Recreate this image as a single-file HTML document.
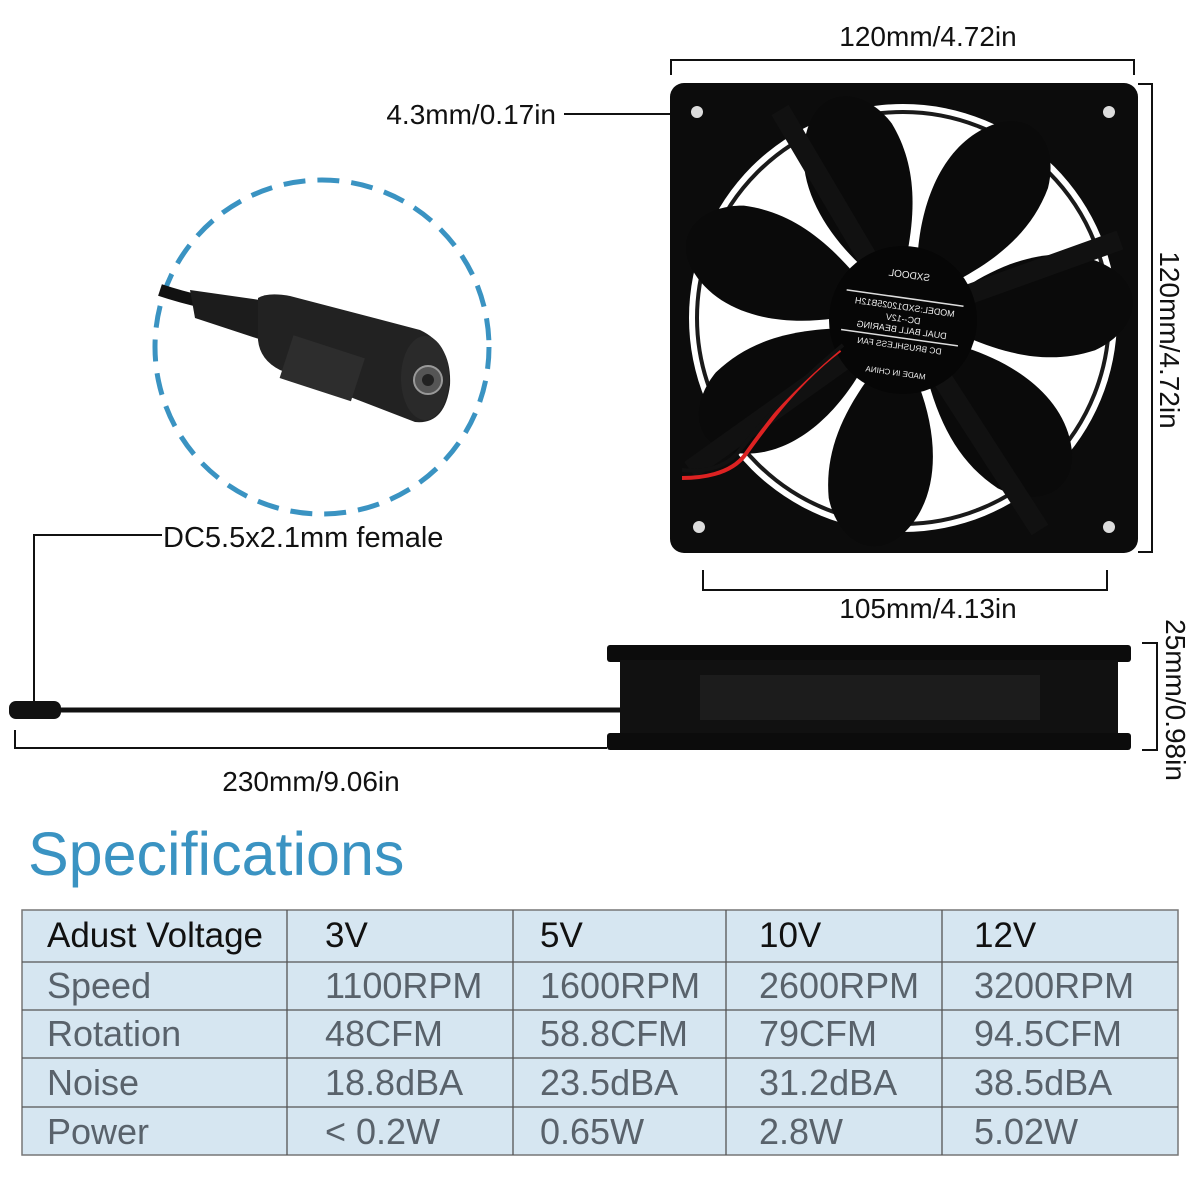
<!DOCTYPE html>
<html><head><meta charset="utf-8"><style>
body{margin:0;background:#fff;}
svg{display:block}
text{font-family:"Liberation Sans",Arial,sans-serif}
</style></head><body>
<svg width="1200" height="1200" viewBox="0 0 1200 1200" xmlns="http://www.w3.org/2000/svg">
<rect width="1200" height="1200" fill="#fff"/>
<text x="928" y="46" font-size="28" text-anchor="middle" fill="#111">120mm/4.72in</text>
<path d="M671 75 V60 H1134 V75" fill="none" stroke="#111" stroke-width="2"/>
<path d="M1138 84 H1152 V552 H1138" fill="none" stroke="#111" stroke-width="2"/>
<text transform="translate(1160,340) rotate(90)" font-size="28" text-anchor="middle" fill="#111">120mm/4.72in</text>
<text x="556" y="124" font-size="28" text-anchor="end" fill="#111">4.3mm/0.17in</text>
<line x1="564" y1="114" x2="690" y2="114" stroke="#111" stroke-width="2"/>
<rect x="670" y="83" width="468" height="470" rx="14" fill="#0c0c0c"/>
<circle cx="903" cy="318" r="214" fill="#fff"/>
<circle cx="903" cy="318" r="206" fill="none" stroke="#1a1a1a" stroke-width="4"/>
<g transform="translate(903,318)" fill="#0a0a0a">
 <g id="b"><path d="M15,-68 C20,-125 45,-180 95,-195 C135,-205 155,-170 145,-130 C130,-90 100,-62 55,-38 Z"/></g>
 <use href="#b" transform="rotate(51.4)"/>
 <use href="#b" transform="rotate(102.8)"/>
 <use href="#b" transform="rotate(154.3)"/>
 <use href="#b" transform="rotate(205.7)"/>
 <use href="#b" transform="rotate(257.1)"/>
 <use href="#b" transform="rotate(308.6)"/>
</g>
<g stroke="#111" stroke-width="20">
<line x1="780" y1="110" x2="903" y2="318"/>
<line x1="1120" y1="240" x2="903" y2="318"/>
<line x1="1040" y1="530" x2="903" y2="318"/>
<line x1="690" y1="470" x2="903" y2="318"/>
</g>
<circle cx="903" cy="320" r="74" fill="#060606"/>
<path d="M840 350 C800 380 770 420 745 455 C730 475 700 478 682 478" fill="none" stroke="#d22" stroke-width="4"/>
<path d="M843 345 C803 378 768 414 740 450 C725 470 700 472 682 470" fill="none" stroke="#111" stroke-width="4"/>
<g fill="#eee" text-anchor="middle" transform="translate(903,320) rotate(8)">
 <text x="0" y="-42" font-size="10" transform="scale(-1,1)">SXDOOL</text>
 <line x1="-60" y1="-22" x2="58" y2="-22" stroke="#ddd" stroke-width="1.5"/>
 <text x="0" y="-10" font-size="9" transform="scale(-1,1)">MODEL:SXD12025B12H</text>
 <text x="0" y="2" font-size="9" transform="scale(-1,1)">DC--12V</text>
 <text x="0" y="13" font-size="9" transform="scale(-1,1)">DUAL BALL BEARING</text>
 <line x1="-60" y1="18" x2="58" y2="18" stroke="#ddd" stroke-width="1.5"/>
 <text x="0" y="29" font-size="8.5" transform="scale(-1,1)">DC BRUSHLESS FAN</text>
 <text x="0" y="56" font-size="8" transform="scale(-1,1)">MADE IN CHINA</text>
</g>
<g fill="#ddd"><circle cx="697" cy="112" r="6"/><circle cx="1109" cy="112" r="6"/><circle cx="699" cy="527" r="6"/><circle cx="1109" cy="527" r="6"/></g>
<path d="M703 570 V590 H1107 V570" fill="none" stroke="#111" stroke-width="2"/>
<text x="928" y="618" font-size="28" text-anchor="middle" fill="#111">105mm/4.13in</text>
<rect x="607" y="645" width="524" height="17" rx="3" fill="#0c0c0c"/>
<rect x="620" y="660" width="498" height="76" fill="#111"/>
<rect x="700" y="675" width="340" height="45" fill="#1c1c1c"/>
<rect x="607" y="733" width="524" height="17" rx="3" fill="#0c0c0c"/>
<path d="M1142 643 H1157 V750 H1142" fill="none" stroke="#111" stroke-width="2"/>
<text transform="translate(1166,700) rotate(90)" font-size="28" text-anchor="middle" fill="#111">25mm/0.98in</text>
<line x1="60" y1="710" x2="620" y2="710" stroke="#111" stroke-width="5"/>
<rect x="9" y="701" width="52" height="18" rx="7" fill="#111"/>
<path d="M34 701 V535 H162" fill="none" stroke="#111" stroke-width="2"/>
<text x="163" y="547" font-size="29" fill="#111">DC5.5x2.1mm female</text>
<path d="M15 730 V748 H607" fill="none" stroke="#111" stroke-width="2"/>
<text x="311" y="791" font-size="28" text-anchor="middle" fill="#111">230mm/9.06in</text>
<circle cx="322" cy="347" r="167" fill="none" stroke="#3a93c2" stroke-width="5" stroke-dasharray="22 12"/>
<path d="M160 290 C190 300 215 305 250 310" fill="none" stroke="#111" stroke-width="12"/>
<path d="M190 290 L260 300 L262 340 L195 318 Z" fill="#1c1c1c"/>
<path d="M258 298 Q268 292 290 296 L420 330 Q452 345 450 385 Q445 425 415 422 L280 370 Q260 360 258 340 Z" fill="#222"/>
<rect x="285" y="345" width="75" height="45" fill="#2d2d2d" transform="rotate(18 320 367)"/>
<ellipse cx="425" cy="378" rx="24" ry="42" fill="#2a2a2a"/>
<circle cx="428" cy="380" r="14" fill="#555" stroke="#999" stroke-width="2"/>
<circle cx="428" cy="380" r="6" fill="#222"/>
<text x="28" y="875" font-size="61" fill="#3a93c2">Specifications</text>
<rect x="22" y="910" width="1156" height="245" fill="#d6e6f1" stroke="#777" stroke-width="1.5"/>
<g stroke="#555" stroke-width="1.3">
<line x1="22" y1="962" x2="1178" y2="962"/>
<line x1="22" y1="1010" x2="1178" y2="1010"/>
<line x1="22" y1="1058" x2="1178" y2="1058"/>
<line x1="22" y1="1107" x2="1178" y2="1107"/>
<line x1="287" y1="910" x2="287" y2="1155"/>
<line x1="513" y1="910" x2="513" y2="1155"/>
<line x1="726" y1="910" x2="726" y2="1155"/>
<line x1="942" y1="910" x2="942" y2="1155"/>
</g>
<g font-size="35" fill="#111">
<text x="47" y="947">Adust Voltage</text><text x="325" y="947">3V</text><text x="540" y="947">5V</text><text x="759" y="947">10V</text><text x="974" y="947">12V</text>
</g>
<g font-size="36" fill="#59626b">
<text x="47" y="998">Speed</text><text x="325" y="998">1100RPM</text><text x="540" y="998">1600RPM</text><text x="759" y="998">2600RPM</text><text x="974" y="998">3200RPM</text>
<text x="47" y="1046">Rotation</text><text x="325" y="1046">48CFM</text><text x="540" y="1046">58.8CFM</text><text x="759" y="1046">79CFM</text><text x="974" y="1046">94.5CFM</text>
<text x="47" y="1095">Noise</text><text x="325" y="1095">18.8dBA</text><text x="540" y="1095">23.5dBA</text><text x="759" y="1095">31.2dBA</text><text x="974" y="1095">38.5dBA</text>
<text x="47" y="1144">Power</text><text x="325" y="1144">&lt; 0.2W</text><text x="540" y="1144">0.65W</text><text x="759" y="1144">2.8W</text><text x="974" y="1144">5.02W</text>
</g>
</svg>
</body></html>
